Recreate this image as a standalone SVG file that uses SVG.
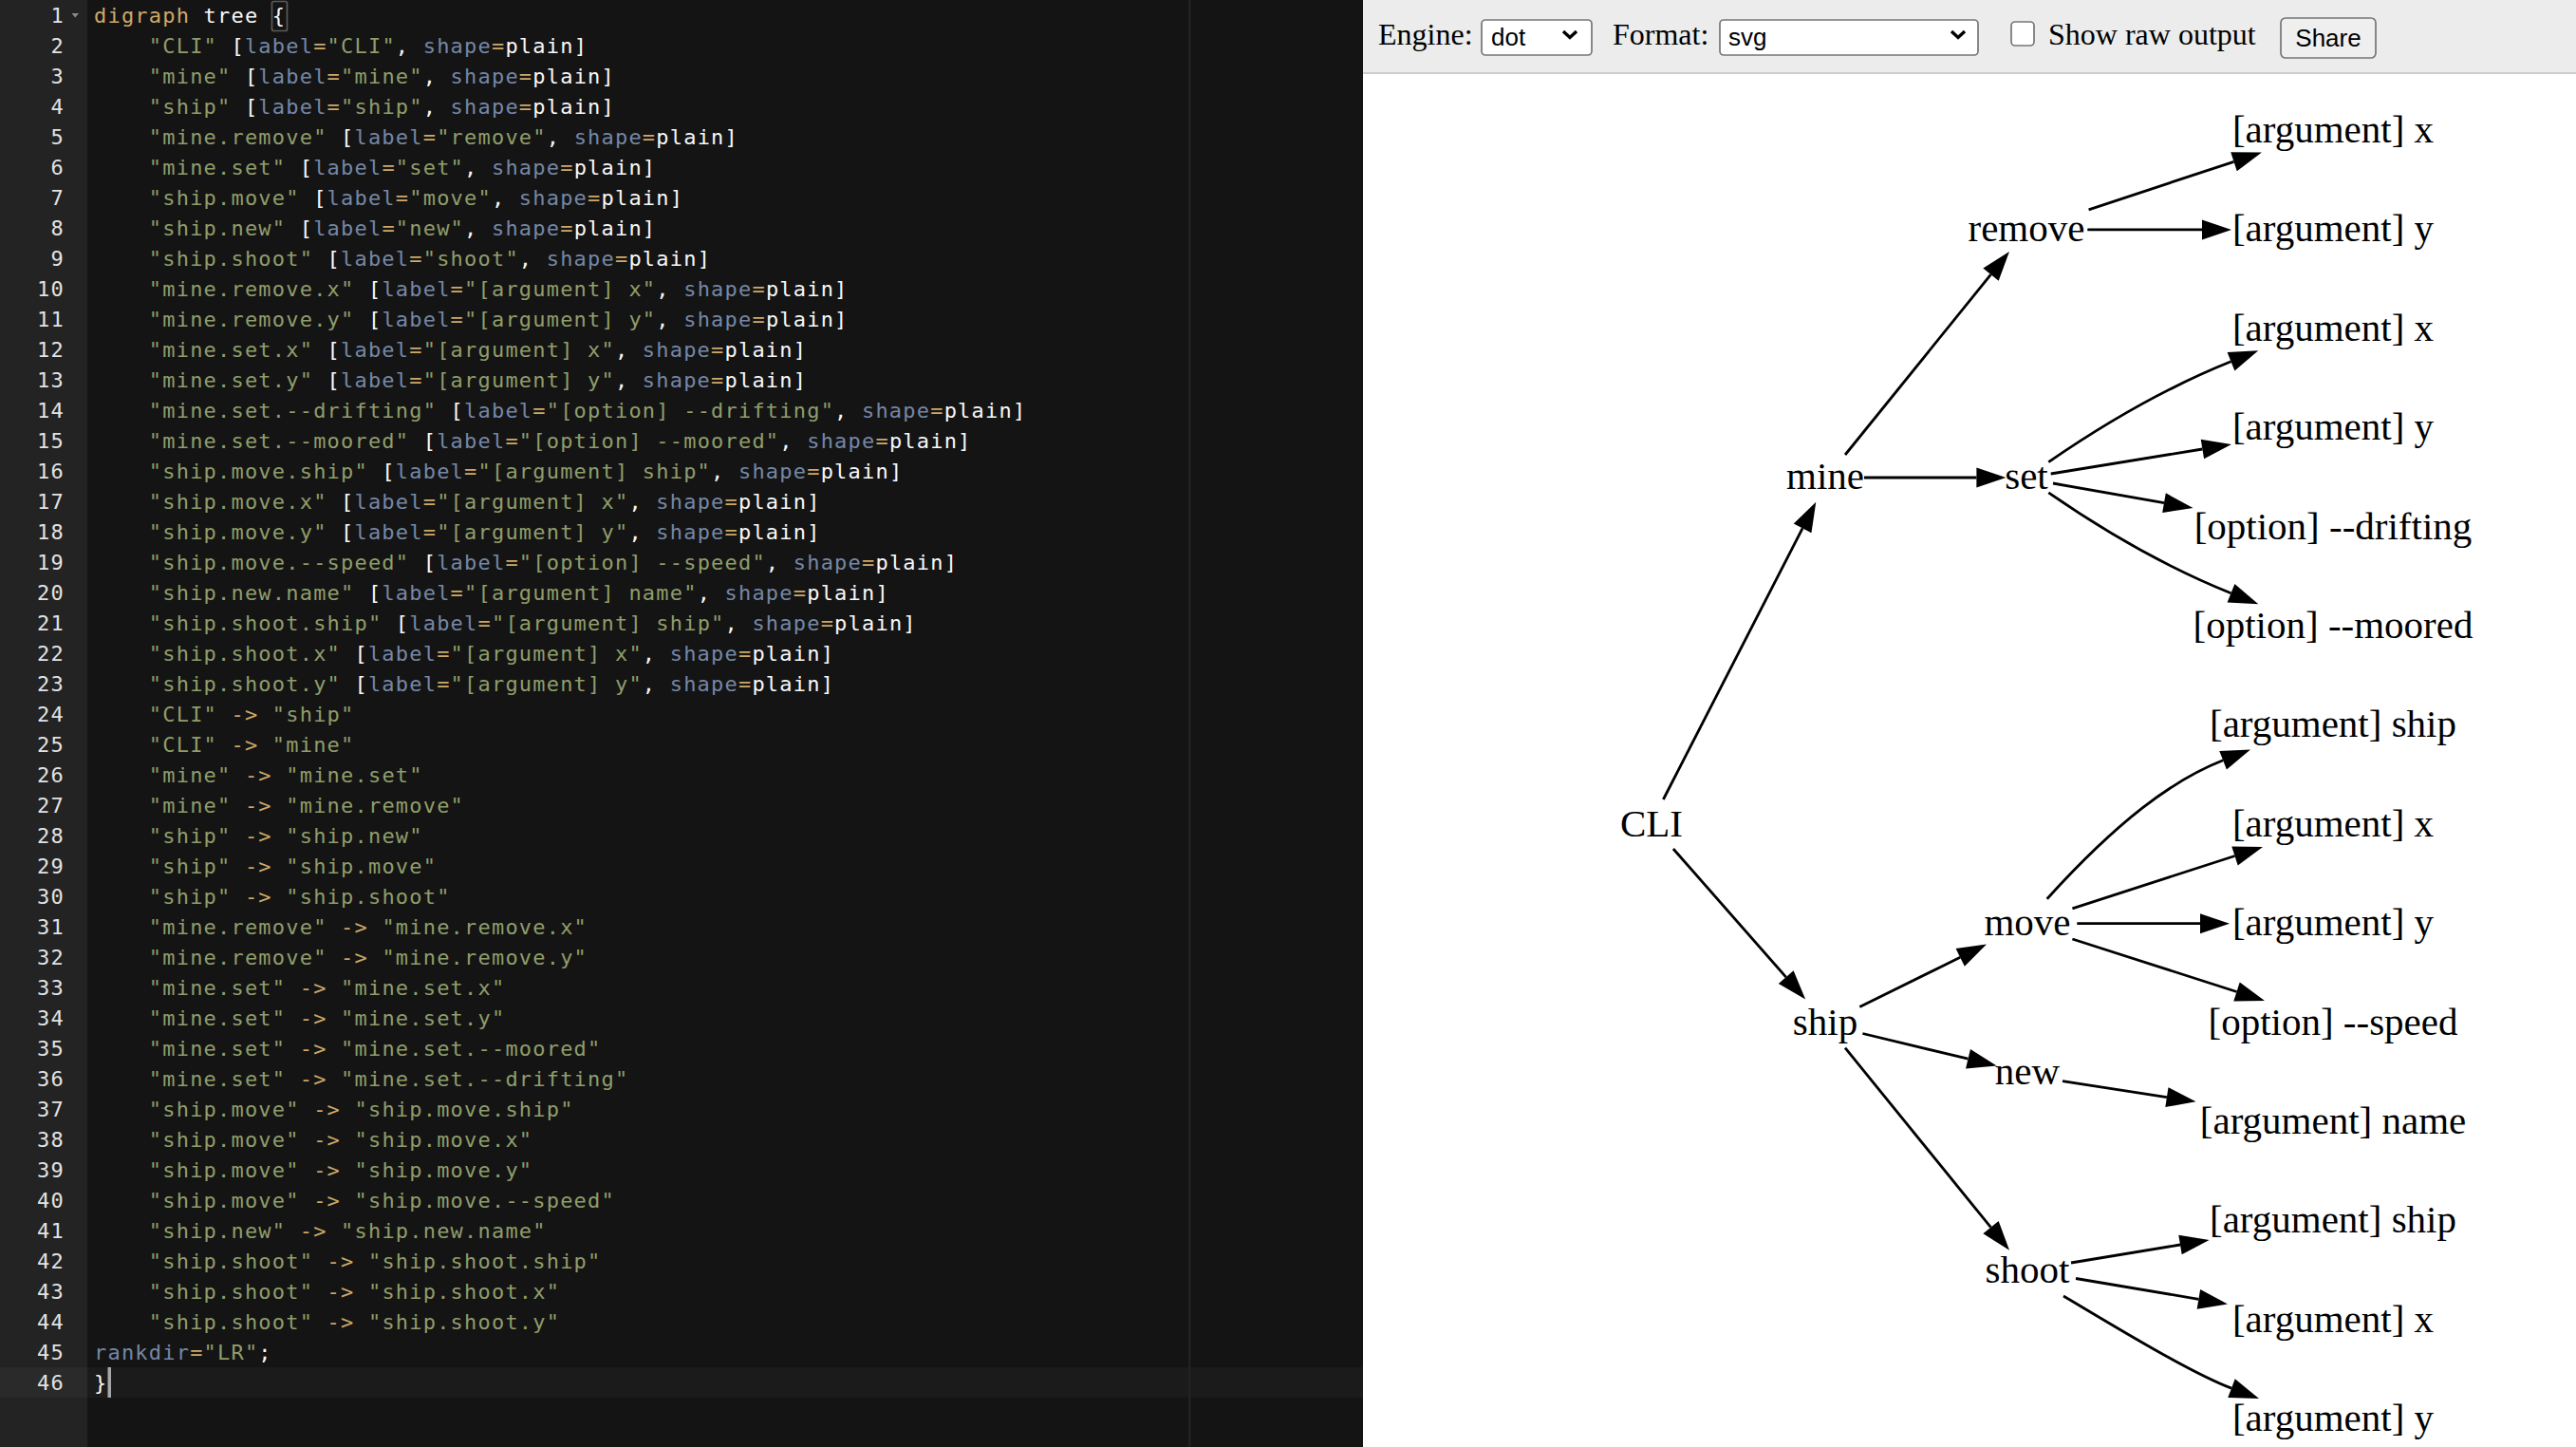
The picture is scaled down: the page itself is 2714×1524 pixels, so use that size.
<svg xmlns="http://www.w3.org/2000/svg" width="2714" height="1524" viewBox="0 0 2714 1524">
<defs>
<style>
.code{font-family:"DejaVu Sans Mono","Liberation Mono",monospace;font-size:22px;letter-spacing:1.2px;fill:#F8F8F8}
.ln{font-family:"DejaVu Sans Mono","Liberation Mono",monospace;font-size:22px;letter-spacing:1.2px;fill:#E2E2E2;text-anchor:end}
.k{fill:#CDA869}
.s{fill:#8F9D6A}
.v{fill:#7587A6}
.ui{font-family:"Liberation Serif","Times New Roman",serif;font-size:32px;fill:#000}
.uis{font-family:"Liberation Sans",Arial,sans-serif;font-size:26px;fill:#000}
.ctl{fill:#fff;stroke:#767676;stroke-width:1.7}
.chev{fill:none;stroke:#000;stroke-width:3.4}
.nd text{font-family:"Liberation Serif","Times New Roman",serif;font-size:41px;fill:#000;text-anchor:middle}
.e path{fill:none;stroke:#000;stroke-width:2.8;marker-end:url(#ah)}
</style>
<marker id="ah" markerUnits="userSpaceOnUse" markerWidth="32" markerHeight="22" refX="0" refY="10.5" orient="auto" overflow="visible"><path d="M0,0 L31,10.5 L0,21 Z" fill="#000" stroke="none"/></marker>
</defs>

<!-- Editor panel -->
<g id="editor">
<rect x="0" y="0" width="1436" height="1524" fill="#141414"/>
<rect x="0" y="0" width="92" height="1524" fill="#232323"/>
<rect x="0" y="1440" width="92" height="32" fill="#2a2a2a"/>
<rect x="92" y="1440" width="1344" height="32" fill="#1b1b1b"/>
<rect x="1252.5" y="0" width="1.7" height="1524" fill="#262626"/>
<polygon points="75.5,14 83,14 79.25,18.5" fill="#8a8a8a"/>
<rect x="286.5" y="1.5" width="16" height="31" rx="2" fill="none" stroke="rgba(255,255,255,0.3)" stroke-width="1.7"/>
<rect x="113.5" y="1440" width="3.5" height="32" fill="#A7A7A7"/>

<g id="line-numbers">
<text class="ln" x="68" y="24">1</text>
<text class="ln" x="68" y="56">2</text>
<text class="ln" x="68" y="88">3</text>
<text class="ln" x="68" y="120">4</text>
<text class="ln" x="68" y="152">5</text>
<text class="ln" x="68" y="184">6</text>
<text class="ln" x="68" y="216">7</text>
<text class="ln" x="68" y="248">8</text>
<text class="ln" x="68" y="280">9</text>
<text class="ln" x="68" y="312">10</text>
<text class="ln" x="68" y="344">11</text>
<text class="ln" x="68" y="376">12</text>
<text class="ln" x="68" y="408">13</text>
<text class="ln" x="68" y="440">14</text>
<text class="ln" x="68" y="472">15</text>
<text class="ln" x="68" y="504">16</text>
<text class="ln" x="68" y="536">17</text>
<text class="ln" x="68" y="568">18</text>
<text class="ln" x="68" y="600">19</text>
<text class="ln" x="68" y="632">20</text>
<text class="ln" x="68" y="664">21</text>
<text class="ln" x="68" y="696">22</text>
<text class="ln" x="68" y="728">23</text>
<text class="ln" x="68" y="760">24</text>
<text class="ln" x="68" y="792">25</text>
<text class="ln" x="68" y="824">26</text>
<text class="ln" x="68" y="856">27</text>
<text class="ln" x="68" y="888">28</text>
<text class="ln" x="68" y="920">29</text>
<text class="ln" x="68" y="952">30</text>
<text class="ln" x="68" y="984">31</text>
<text class="ln" x="68" y="1016">32</text>
<text class="ln" x="68" y="1048">33</text>
<text class="ln" x="68" y="1080">34</text>
<text class="ln" x="68" y="1112">35</text>
<text class="ln" x="68" y="1144">36</text>
<text class="ln" x="68" y="1176">37</text>
<text class="ln" x="68" y="1208">38</text>
<text class="ln" x="68" y="1240">39</text>
<text class="ln" x="68" y="1272">40</text>
<text class="ln" x="68" y="1304">41</text>
<text class="ln" x="68" y="1336">42</text>
<text class="ln" x="68" y="1368">43</text>
<text class="ln" x="68" y="1400">44</text>
<text class="ln" x="68" y="1432">45</text>
<text class="ln" x="68" y="1464">46</text>
</g>

<g id="code">
<text class="code" x="99" y="24"><tspan class="k">digraph</tspan> tree {</text>
<text class="code" x="156.8" y="56"><tspan class="s">"CLI"</tspan> [<tspan class="v">label</tspan><tspan class="k">=</tspan><tspan class="s">"CLI"</tspan>, <tspan class="v">shape</tspan><tspan class="k">=</tspan>plain]</text>
<text class="code" x="156.8" y="88"><tspan class="s">"mine"</tspan> [<tspan class="v">label</tspan><tspan class="k">=</tspan><tspan class="s">"mine"</tspan>, <tspan class="v">shape</tspan><tspan class="k">=</tspan>plain]</text>
<text class="code" x="156.8" y="120"><tspan class="s">"ship"</tspan> [<tspan class="v">label</tspan><tspan class="k">=</tspan><tspan class="s">"ship"</tspan>, <tspan class="v">shape</tspan><tspan class="k">=</tspan>plain]</text>
<text class="code" x="156.8" y="152"><tspan class="s">"mine.remove"</tspan> [<tspan class="v">label</tspan><tspan class="k">=</tspan><tspan class="s">"remove"</tspan>, <tspan class="v">shape</tspan><tspan class="k">=</tspan>plain]</text>
<text class="code" x="156.8" y="184"><tspan class="s">"mine.set"</tspan> [<tspan class="v">label</tspan><tspan class="k">=</tspan><tspan class="s">"set"</tspan>, <tspan class="v">shape</tspan><tspan class="k">=</tspan>plain]</text>
<text class="code" x="156.8" y="216"><tspan class="s">"ship.move"</tspan> [<tspan class="v">label</tspan><tspan class="k">=</tspan><tspan class="s">"move"</tspan>, <tspan class="v">shape</tspan><tspan class="k">=</tspan>plain]</text>
<text class="code" x="156.8" y="248"><tspan class="s">"ship.new"</tspan> [<tspan class="v">label</tspan><tspan class="k">=</tspan><tspan class="s">"new"</tspan>, <tspan class="v">shape</tspan><tspan class="k">=</tspan>plain]</text>
<text class="code" x="156.8" y="280"><tspan class="s">"ship.shoot"</tspan> [<tspan class="v">label</tspan><tspan class="k">=</tspan><tspan class="s">"shoot"</tspan>, <tspan class="v">shape</tspan><tspan class="k">=</tspan>plain]</text>
<text class="code" x="156.8" y="312"><tspan class="s">"mine.remove.x"</tspan> [<tspan class="v">label</tspan><tspan class="k">=</tspan><tspan class="s">"[argument] x"</tspan>, <tspan class="v">shape</tspan><tspan class="k">=</tspan>plain]</text>
<text class="code" x="156.8" y="344"><tspan class="s">"mine.remove.y"</tspan> [<tspan class="v">label</tspan><tspan class="k">=</tspan><tspan class="s">"[argument] y"</tspan>, <tspan class="v">shape</tspan><tspan class="k">=</tspan>plain]</text>
<text class="code" x="156.8" y="376"><tspan class="s">"mine.set.x"</tspan> [<tspan class="v">label</tspan><tspan class="k">=</tspan><tspan class="s">"[argument] x"</tspan>, <tspan class="v">shape</tspan><tspan class="k">=</tspan>plain]</text>
<text class="code" x="156.8" y="408"><tspan class="s">"mine.set.y"</tspan> [<tspan class="v">label</tspan><tspan class="k">=</tspan><tspan class="s">"[argument] y"</tspan>, <tspan class="v">shape</tspan><tspan class="k">=</tspan>plain]</text>
<text class="code" x="156.8" y="440"><tspan class="s">"mine.set.--drifting"</tspan> [<tspan class="v">label</tspan><tspan class="k">=</tspan><tspan class="s">"[option] --drifting"</tspan>, <tspan class="v">shape</tspan><tspan class="k">=</tspan>plain]</text>
<text class="code" x="156.8" y="472"><tspan class="s">"mine.set.--moored"</tspan> [<tspan class="v">label</tspan><tspan class="k">=</tspan><tspan class="s">"[option] --moored"</tspan>, <tspan class="v">shape</tspan><tspan class="k">=</tspan>plain]</text>
<text class="code" x="156.8" y="504"><tspan class="s">"ship.move.ship"</tspan> [<tspan class="v">label</tspan><tspan class="k">=</tspan><tspan class="s">"[argument] ship"</tspan>, <tspan class="v">shape</tspan><tspan class="k">=</tspan>plain]</text>
<text class="code" x="156.8" y="536"><tspan class="s">"ship.move.x"</tspan> [<tspan class="v">label</tspan><tspan class="k">=</tspan><tspan class="s">"[argument] x"</tspan>, <tspan class="v">shape</tspan><tspan class="k">=</tspan>plain]</text>
<text class="code" x="156.8" y="568"><tspan class="s">"ship.move.y"</tspan> [<tspan class="v">label</tspan><tspan class="k">=</tspan><tspan class="s">"[argument] y"</tspan>, <tspan class="v">shape</tspan><tspan class="k">=</tspan>plain]</text>
<text class="code" x="156.8" y="600"><tspan class="s">"ship.move.--speed"</tspan> [<tspan class="v">label</tspan><tspan class="k">=</tspan><tspan class="s">"[option] --speed"</tspan>, <tspan class="v">shape</tspan><tspan class="k">=</tspan>plain]</text>
<text class="code" x="156.8" y="632"><tspan class="s">"ship.new.name"</tspan> [<tspan class="v">label</tspan><tspan class="k">=</tspan><tspan class="s">"[argument] name"</tspan>, <tspan class="v">shape</tspan><tspan class="k">=</tspan>plain]</text>
<text class="code" x="156.8" y="664"><tspan class="s">"ship.shoot.ship"</tspan> [<tspan class="v">label</tspan><tspan class="k">=</tspan><tspan class="s">"[argument] ship"</tspan>, <tspan class="v">shape</tspan><tspan class="k">=</tspan>plain]</text>
<text class="code" x="156.8" y="696"><tspan class="s">"ship.shoot.x"</tspan> [<tspan class="v">label</tspan><tspan class="k">=</tspan><tspan class="s">"[argument] x"</tspan>, <tspan class="v">shape</tspan><tspan class="k">=</tspan>plain]</text>
<text class="code" x="156.8" y="728"><tspan class="s">"ship.shoot.y"</tspan> [<tspan class="v">label</tspan><tspan class="k">=</tspan><tspan class="s">"[argument] y"</tspan>, <tspan class="v">shape</tspan><tspan class="k">=</tspan>plain]</text>
<text class="code" x="156.8" y="760"><tspan class="s">"CLI"</tspan> <tspan class="k">-&gt;</tspan> <tspan class="s">"ship"</tspan></text>
<text class="code" x="156.8" y="792"><tspan class="s">"CLI"</tspan> <tspan class="k">-&gt;</tspan> <tspan class="s">"mine"</tspan></text>
<text class="code" x="156.8" y="824"><tspan class="s">"mine"</tspan> <tspan class="k">-&gt;</tspan> <tspan class="s">"mine.set"</tspan></text>
<text class="code" x="156.8" y="856"><tspan class="s">"mine"</tspan> <tspan class="k">-&gt;</tspan> <tspan class="s">"mine.remove"</tspan></text>
<text class="code" x="156.8" y="888"><tspan class="s">"ship"</tspan> <tspan class="k">-&gt;</tspan> <tspan class="s">"ship.new"</tspan></text>
<text class="code" x="156.8" y="920"><tspan class="s">"ship"</tspan> <tspan class="k">-&gt;</tspan> <tspan class="s">"ship.move"</tspan></text>
<text class="code" x="156.8" y="952"><tspan class="s">"ship"</tspan> <tspan class="k">-&gt;</tspan> <tspan class="s">"ship.shoot"</tspan></text>
<text class="code" x="156.8" y="984"><tspan class="s">"mine.remove"</tspan> <tspan class="k">-&gt;</tspan> <tspan class="s">"mine.remove.x"</tspan></text>
<text class="code" x="156.8" y="1016"><tspan class="s">"mine.remove"</tspan> <tspan class="k">-&gt;</tspan> <tspan class="s">"mine.remove.y"</tspan></text>
<text class="code" x="156.8" y="1048"><tspan class="s">"mine.set"</tspan> <tspan class="k">-&gt;</tspan> <tspan class="s">"mine.set.x"</tspan></text>
<text class="code" x="156.8" y="1080"><tspan class="s">"mine.set"</tspan> <tspan class="k">-&gt;</tspan> <tspan class="s">"mine.set.y"</tspan></text>
<text class="code" x="156.8" y="1112"><tspan class="s">"mine.set"</tspan> <tspan class="k">-&gt;</tspan> <tspan class="s">"mine.set.--moored"</tspan></text>
<text class="code" x="156.8" y="1144"><tspan class="s">"mine.set"</tspan> <tspan class="k">-&gt;</tspan> <tspan class="s">"mine.set.--drifting"</tspan></text>
<text class="code" x="156.8" y="1176"><tspan class="s">"ship.move"</tspan> <tspan class="k">-&gt;</tspan> <tspan class="s">"ship.move.ship"</tspan></text>
<text class="code" x="156.8" y="1208"><tspan class="s">"ship.move"</tspan> <tspan class="k">-&gt;</tspan> <tspan class="s">"ship.move.x"</tspan></text>
<text class="code" x="156.8" y="1240"><tspan class="s">"ship.move"</tspan> <tspan class="k">-&gt;</tspan> <tspan class="s">"ship.move.y"</tspan></text>
<text class="code" x="156.8" y="1272"><tspan class="s">"ship.move"</tspan> <tspan class="k">-&gt;</tspan> <tspan class="s">"ship.move.--speed"</tspan></text>
<text class="code" x="156.8" y="1304"><tspan class="s">"ship.new"</tspan> <tspan class="k">-&gt;</tspan> <tspan class="s">"ship.new.name"</tspan></text>
<text class="code" x="156.8" y="1336"><tspan class="s">"ship.shoot"</tspan> <tspan class="k">-&gt;</tspan> <tspan class="s">"ship.shoot.ship"</tspan></text>
<text class="code" x="156.8" y="1368"><tspan class="s">"ship.shoot"</tspan> <tspan class="k">-&gt;</tspan> <tspan class="s">"ship.shoot.x"</tspan></text>
<text class="code" x="156.8" y="1400"><tspan class="s">"ship.shoot"</tspan> <tspan class="k">-&gt;</tspan> <tspan class="s">"ship.shoot.y"</tspan></text>
<text class="code" x="99" y="1432"><tspan class="v">rankdir</tspan><tspan class="k">=</tspan><tspan class="s">"LR"</tspan>;</text>
<text class="code" x="99" y="1464">}</text>
</g>
</g>

<!-- Right panel -->
<g id="viewer">
<rect x="1436" y="0" width="1278" height="1524" fill="#ffffff"/>
<rect x="1436" y="0" width="1278" height="76" fill="#ececec"/>
<rect x="1436" y="76" width="1278" height="2" fill="#cccccc"/>
<g id="toolbar">
<text class="ui" x="1452" y="47">Engine:</text>
<rect class="ctl" x="1561" y="21" width="116" height="37" rx="4"/>
<text class="uis" x="1571" y="48">dot</text>
<polyline class="chev" points="1647,33 1654,39.5 1661,33"/>
<text class="ui" x="1699" y="47">Format:</text>
<rect class="ctl" x="1812" y="21" width="272" height="37" rx="4"/>
<text class="uis" x="1821" y="48">svg</text>
<polyline class="chev" points="2056,33 2063,39.5 2070,33"/>
<rect class="ctl" x="2119" y="23" width="24" height="25" rx="4"/>
<text class="ui" x="2158" y="47">Show raw output</text>
<rect x="2403" y="19" width="100" height="42" rx="5" fill="#efefef" stroke="#767676" stroke-width="1.7"/>
<text class="uis" x="2453" y="49" text-anchor="middle">Share</text>
</g>
</g>

<!-- Graph connectors -->
<g id="edges" class="e">
<path id="e-remove-x" d="M2200.6,220.8 L2353.5,170.3"/>
<path id="e-remove-y" d="M2199.3,241.9 L2320,241.9"/>
<path id="e-mine-remove" d="M1944,479 L2097.5,289.1"/>
<path id="e-mine-set" d="M1964,503 L2082.4,503"/>
<path id="e-set-x" d="M2158.3,486.7 C2228.3,438.4 2294.8,403.1 2350.5,380.8"/>
<path id="e-set-y" d="M2160.7,499 L2320.4,473"/>
<path id="e-set-drifting" d="M2163,509 L2280,529.7"/>
<path id="e-set-moored" d="M2158.3,518.9 C2228.3,567.2 2294.8,602.5 2350.5,624.8"/>
<path id="e-cli-mine" d="M1752.4,842 L1899.1,556.4"/>
<path id="e-cli-ship" d="M1762.9,894 L1881.7,1029.1"/>
<path id="e-ship-move" d="M1959.3,1060.5 L2065.2,1008.3"/>
<path id="e-ship-new" d="M1962.4,1088.5 L2073.5,1115.2"/>
<path id="e-ship-shoot" d="M1944,1103.6 L2097.5,1292.7"/>
<path id="e-move-ship" d="M2156.7,946.7 C2230.7,865.3 2288.1,822 2342.1,800.8"/>
<path id="e-move-x" d="M2183.4,956.8 L2354.5,901.5"/>
<path id="e-move-y" d="M2188.3,972.7 L2318,972.7"/>
<path id="e-move-speed" d="M2183.4,989 L2356.5,1044.5"/>
<path id="e-new-name" d="M2173,1138.7 L2282.9,1155.6"/>
<path id="e-shoot-ship" d="M2182,1330 L2297,1311"/>
<path id="e-shoot-x" d="M2187,1346.5 L2316.4,1368.3"/>
<path id="e-shoot-y" d="M2174,1365 C2214,1388.5 2304.3,1444.4 2351,1462.1"/>
</g>

<!-- Graph nodes -->
<g id="n-CLI" class="nd"><text x="1740" y="880.8">CLI</text></g>
<g id="n-mine" class="nd"><text x="1923" y="515.4">mine</text></g>
<g id="n-ship" class="nd"><text x="1923" y="1089.6">ship</text></g>
<g id="n-mine-remove" class="nd"><text x="2135" y="254.4">remove</text></g>
<g id="n-mine-set" class="nd"><text x="2135" y="515.4">set</text></g>
<g id="n-ship-move" class="nd"><text x="2136" y="985.2">move</text></g>
<g id="n-ship-new" class="nd"><text x="2136" y="1141.8">new</text></g>
<g id="n-ship-shoot" class="nd"><text x="2136" y="1350.6">shoot</text></g>
<g id="n-mine-remove-x" class="nd"><text x="2458" y="150">[argument] x</text></g>
<g id="n-mine-remove-y" class="nd"><text x="2458" y="254.4">[argument] y</text></g>
<g id="n-mine-set-x" class="nd"><text x="2458" y="358.8">[argument] x</text></g>
<g id="n-mine-set-y" class="nd"><text x="2458" y="463.2">[argument] y</text></g>
<g id="n-mine-set-drifting" class="nd"><text x="2458" y="567.6">[option] --drifting</text></g>
<g id="n-mine-set-moored" class="nd"><text x="2458" y="672">[option] --moored</text></g>
<g id="n-ship-move-ship" class="nd"><text x="2458" y="776.4">[argument] ship</text></g>
<g id="n-ship-move-x" class="nd"><text x="2458" y="880.8">[argument] x</text></g>
<g id="n-ship-move-y" class="nd"><text x="2458" y="985.2">[argument] y</text></g>
<g id="n-ship-move-speed" class="nd"><text x="2458" y="1089.6">[option] --speed</text></g>
<g id="n-ship-new-name" class="nd"><text x="2458" y="1194">[argument] name</text></g>
<g id="n-ship-shoot-ship" class="nd"><text x="2458" y="1298.4">[argument] ship</text></g>
<g id="n-ship-shoot-x" class="nd"><text x="2458" y="1402.8">[argument] x</text></g>
<g id="n-ship-shoot-y" class="nd"><text x="2458" y="1507.2">[argument] y</text></g>
</svg>
